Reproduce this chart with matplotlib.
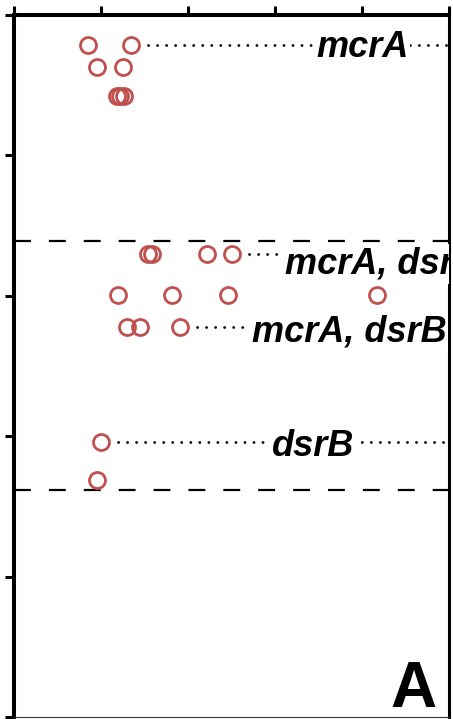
import matplotlib
matplotlib.use("Agg")
import matplotlib.pyplot as plt

# strip rows: y position of each row and x of its points
row_y = [0.217, 0.374, 0.580, 1.706, 1.998, 2.226, 3.045, 3.315]
row_x = [
    [0.85, 1.345],
    [0.954, 1.253],
    [1.184, 1.218, 1.264],
    [1.54, 1.586, 2.218, 2.506],
    [1.195, 1.816, 2.46, 4.172],
    [1.299, 1.448, 1.908],
    [1.0],
    [0.954],
]

# group boundaries
bounds = [1.613, 3.387]

# labelled rows (index into row_y), text and where the label starts
label_rows = [0, 3, 5, 6]
label_text = ["mcrA", "mcrA, dsrB", "mcrA, dsrB", "dsrB"]
label_x = [3.47, 3.11, 2.73, 2.96]
label_dy = [-9, -14, -10, -10]   # points, baseline offset

red = "#c0504d"

fig = plt.figure(figsize=(4.53, 7.19), dpi=100)
ax = fig.add_axes([14/453, 1 - 717/719, (449 - 14)/453, (717 - 14.5)/719])

for y, xs in zip(row_y, row_x):
    ax.plot(xs, [y]*len(xs), 'o', ms=11.5, mfc='none', mec=red, mew=2.0,
            zorder=3, clip_on=False)

for b in bounds:
    ax.axhline(b, color='black', lw=1.6, ls=(0, (7.6, 8.1)), zorder=2)

for i, txt, lx, dy in zip(label_rows, label_text, label_x, label_dy):
    y = row_y[i]
    x0 = max(row_x[i]) + 0.19
    ax.plot([x0, 5], [y, y], color='black', lw=2.0, ls=(0, (0.05, 3.2)),
            dash_capstyle='round', zorder=1)
    ax.annotate(txt, (lx, y), xytext=(0, dy), textcoords='offset points',
                ha='left', va='baseline', fontsize=26, fontstyle='italic',
                fontweight='bold', family='Liberation Sans', zorder=4,
                annotation_clip=False,
                bbox=dict(facecolor='white', edgecolor='none', pad=1.5),
                clip_on=True)

ax.text(0.972, 0.014, "A", transform=ax.transAxes, ha='right', va='baseline',
        fontsize=46, fontweight='bold', family='Liberation Sans')

ax.set_xlim(0, 5)
ax.set_ylim(5, 0)
ax.set_xticks(range(6))
ax.set_yticks(range(6))
ax.xaxis.tick_top()
ax.tick_params(axis='both', direction='out', length=6.5, width=2.2,
               labeltop=False, labelleft=False, labelbottom=False)
ax.spines['left'].set_linewidth(2.9)
ax.spines['top'].set_linewidth(2.9)
ax.spines['right'].set_linewidth(2.2)
ax.spines['bottom'].set_linewidth(0.8)
ax.spines['bottom'].set_color('#333333')

fig.savefig("out.png", dpi=100)
